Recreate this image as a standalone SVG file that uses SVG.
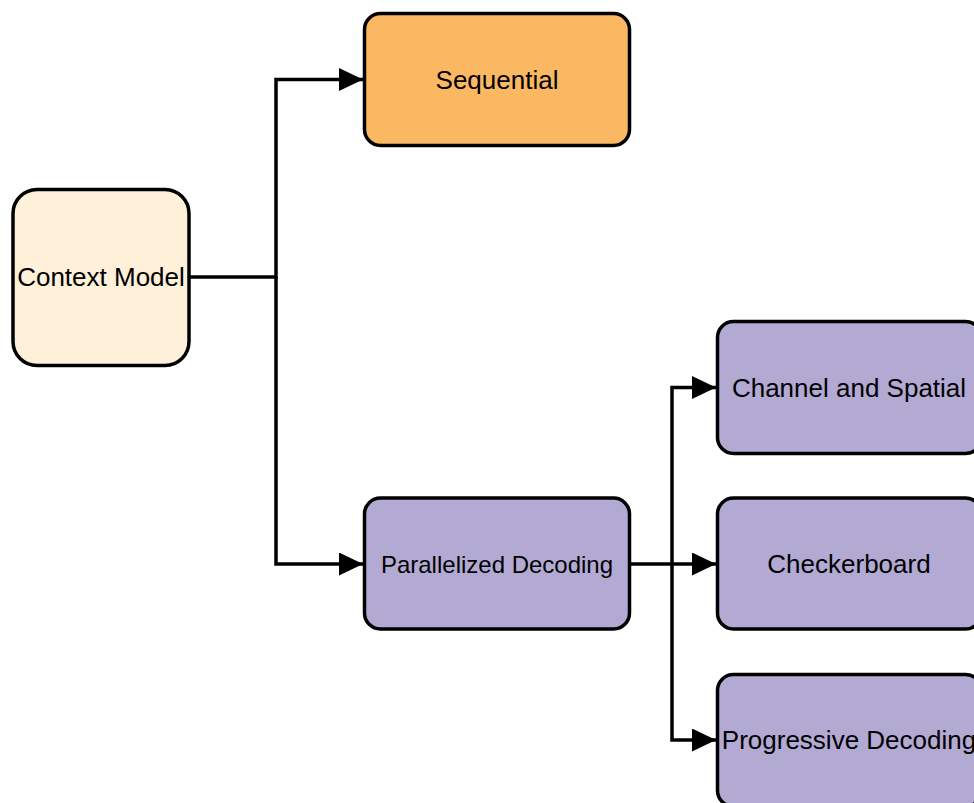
<svg xmlns="http://www.w3.org/2000/svg" width="974" height="803" viewBox="0 0 974 803">
<defs>
<style>
.box{stroke:#000;stroke-width:3.5}
.cream{fill:#fff0d9}
.orange{fill:#fbb863}
.purple{fill:#b3aad4}
.lbl{font-family:"Liberation Sans",Arial,sans-serif;font-size:26px;fill:#000;text-anchor:middle}
.edge{fill:none;stroke:#000;stroke-width:3.5}
</style>
<marker id="arr" viewBox="0 0 24 23" refX="24" refY="11.5" markerWidth="24" markerHeight="23" markerUnits="userSpaceOnUse" orient="auto">
<path d="M0,0 L24,11.5 L0,23 Z" fill="#000"/>
</marker>
</defs>
<rect width="974" height="803" fill="#fff"/>
<g id="connectors">
<path class="edge" d="M189,277 H276 V79.5 H363" marker-end="url(#arr)"/>
<path class="edge" d="M276,277 V564 H363" marker-end="url(#arr)"/>
<path class="edge" d="M630,564 H716" marker-end="url(#arr)"/>
<path class="edge" d="M672,564 V387.5 H716" marker-end="url(#arr)"/>
<path class="edge" d="M672,564 V740 H716" marker-end="url(#arr)"/>
</g>
<g id="context-model">
<rect class="box cream" x="13" y="189.5" width="176" height="176" rx="24"/>
<text class="lbl" x="101" y="286">Context Model</text>
</g>
<g id="sequential">
<rect class="box orange" x="364.5" y="13.5" width="265" height="132" rx="16"/>
<text class="lbl" x="497" y="88.5">Sequential</text>
</g>
<g id="parallelized-decoding">
<rect class="box purple" x="364.5" y="498" width="265" height="131" rx="16"/>
<text class="lbl" x="497" y="572.5" style="font-size:24px">Parallelized Decoding</text>
</g>
<g id="channel-spatial">
<rect class="box purple" x="717.5" y="321.5" width="264" height="132" rx="16"/>
<text class="lbl" x="849" y="396.5">Channel and Spatial</text>
</g>
<g id="checkerboard">
<rect class="box purple" x="717.5" y="498" width="264" height="131" rx="16"/>
<text class="lbl" x="849" y="573">Checkerboard</text>
</g>
<g id="progressive-decoding">
<rect class="box purple" x="717.5" y="674.5" width="264" height="132" rx="16"/>
<text class="lbl" x="849" y="749">Progressive Decoding</text>
</g>
</svg>
